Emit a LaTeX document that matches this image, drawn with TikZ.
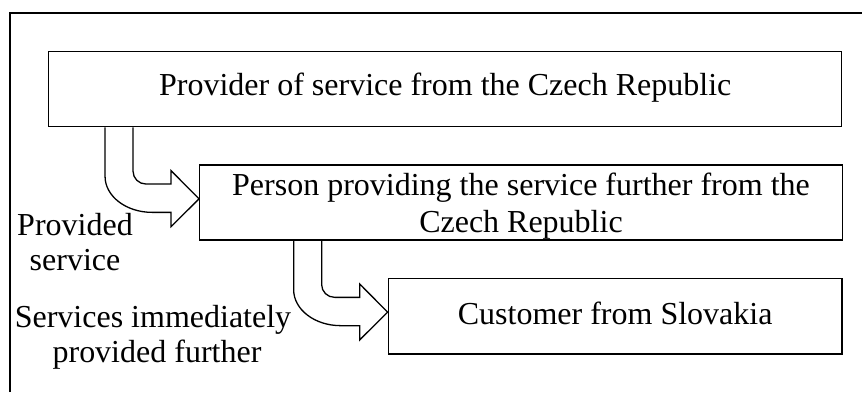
\documentclass[tikz,border=0pt]{standalone}
\usepackage{fontspec}
\setmainfont{Liberation Serif}
\begin{document}
\begin{tikzpicture}[x=1pt,y=1pt,
  box/.style={draw=black, line width=1.3pt, rectangle, inner sep=0pt},
  txt/.style={inner sep=0pt, align=center, font=\fontsize{32}{37}\selectfont},
  lbl/.style={inner sep=0pt, align=center, font=\fontsize{32}{35}\selectfont},
  frame/.style={line width=2pt},
  bent arrow/.pic={
    \draw[line width=1.3pt, line join=miter]
      (0,0) -- (0,-49)
      arc[start angle=180, end angle=270, x radius=47, y radius=36]
      -- (66,-85) -- (66,-99.3) -- (94,-71.5) -- (66,-43.3) -- (66,-56.7)
      -- (41,-56.7)
      arc[start angle=270, end angle=180, x radius=13, y radius=12.7]
      -- (28,0);
  }]
\useasboundingbox (0,0) rectangle (863,-392);
\draw[frame] (10,-392) -- (10,-13.3) -- (861.7,-13.3);

\node[box, minimum width=793pt, minimum height=75pt] (b1) at (445.2,-89.2) {};
\node[txt] (t1) at ([yshift=1.7pt]b1.center) {Provider of service from the Czech Republic};
\node[box, minimum width=643.4pt, minimum height=75pt] (b2) at (521,-202.5) {};
\node[txt] (t2) at ([yshift=-3.5pt]b2.center) {Person providing the service further from the\\Czech Republic};
\node[box, minimum width=453.5pt, minimum height=75.7pt] (b3) at (615.2,-316.2) {};
\node[txt] (t3) at ([yshift=3pt]b3.center) {Customer from Slovakia};

\pic at ([xshift=57pt]b1.south west) {bent arrow};
\pic at ([xshift=95pt]b2.south west) {bent arrow};

\node[lbl, anchor=base] (l1) at (75,-270) {Provided\\service};
\begin{scope}
  \clip (0,-330) rectangle (380,-368);
  \node[lbl, anchor=base] (l2b) at (157,-362) {provided further};
\end{scope}
\node[lbl, anchor=base] (l2) at (153,-327) {Services immediately};
\end{tikzpicture}
\end{document}
